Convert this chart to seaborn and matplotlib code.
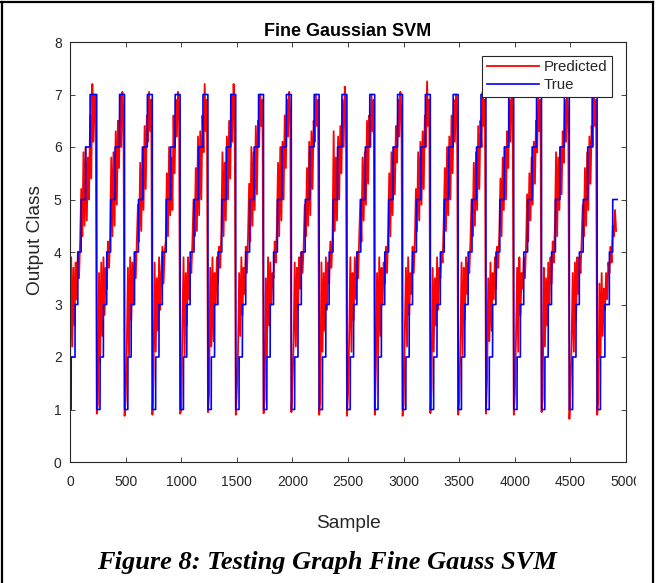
import numpy as np
import pandas as pd
import matplotlib
matplotlib.use("Agg")
import matplotlib.pyplot as plt
import seaborn as sns
from matplotlib.lines import Line2D
from matplotlib.transforms import Bbox, TransformedBbox

# True class: staircase 1..7 repeated (step lengths in samples)
first_levels = [1, 2, 3, 4, 5, 6, 7]
first_lengths = [10, 35, 25, 30, 40, 40, 60]
cycle_levels = [1, 2, 3, 4, 5, 6, 7]
cycle_lengths = [30, 30, 30, 35, 40, 40, 45]
n_cycles = 18
last_levels = [1, 2, 3, 4, 5]
last_lengths = [30, 40, 40, 30, 40]

# Predicted class, one value every 10 samples, one row per staircase
pred_step = 10
pred_rows = [
    [1.9, 3.9, 2.2, 3.7, 2.6, 3.8, 3.1, 4.0, 3.5, 4.2, 5.2, 4.3, 5.9, 4.5, 6.0, 4.6, 5.8, 5.0, 6.6, 5.4, 7.2, 6.1, 7.0, 6.8],
    [0.92, 1.1, 3.6, 1.9, 3.8, 2.4, 3.9, 2.8, 3.7, 3.3, 4.2, 3.7, 4.3, 5.8, 4.3, 5.9, 4.5, 6.3, 4.9, 6.5, 5.6, 7.0, 6.0, 7.05, 6.6],
    [0.88, 1.2, 2.2, 3.7, 2.0, 3.9, 2.7, 3.8, 3.0, 4.0, 3.5, 4.2, 4.9, 4.2, 5.7, 4.4, 6.0, 4.8, 6.4, 5.2, 6.6, 6.1, 7.05, 6.3, 6.9],
    [0.9, 1.6, 3.8, 2.1, 3.5, 2.5, 3.9, 2.9, 3.6, 4.1, 3.4, 4.0, 4.2, 5.5, 4.3, 6.0, 4.7, 5.8, 4.8, 6.6, 5.5, 6.9, 6.2, 7.05, 6.7],
    [0.92, 1.0, 2.6, 3.9, 2.0, 3.6, 2.6, 3.9, 3.1, 3.8, 3.6, 4.2, 5.0, 4.3, 5.6, 4.4, 6.2, 4.7, 6.3, 5.0, 6.6, 5.9, 7.2, 6.3, 6.9],
    [0.95, 1.3, 3.7, 2.2, 3.9, 2.3, 3.6, 3.0, 3.9, 3.4, 4.1, 3.7, 4.4, 5.9, 4.3, 5.7, 4.6, 6.2, 5.0, 6.5, 5.4, 7.0, 6.1, 7.2, 6.7],
    [0.9, 1.4, 2.1, 3.6, 2.4, 3.9, 2.8, 3.7, 3.2, 4.1, 3.6, 4.3, 5.3, 4.2, 6.0, 4.5, 5.9, 4.8, 6.4, 5.1, 6.5, 6.0, 7.0, 6.4, 6.9],
    [0.93, 1.2, 3.5, 2.0, 3.9, 2.6, 3.8, 3.0, 3.6, 3.5, 4.2, 3.8, 4.5, 5.7, 4.3, 6.0, 4.6, 6.1, 5.0, 6.6, 5.6, 6.9, 6.2, 7.05, 6.6],
    [0.95, 1.5, 2.3, 3.8, 2.2, 3.7, 2.9, 3.9, 3.3, 4.0, 3.6, 4.1, 4.9, 4.3, 5.6, 4.5, 6.1, 4.7, 6.3, 5.2, 6.5, 6.1, 7.0, 6.4, 6.9],
    [0.9, 1.2, 3.8, 2.1, 3.6, 2.5, 3.9, 2.9, 3.8, 3.4, 4.2, 3.7, 4.3, 6.3, 4.4, 5.8, 4.6, 6.2, 5.0, 6.4, 5.5, 6.9, 6.0, 7.15, 6.6],
    [0.88, 1.3, 2.4, 3.9, 2.1, 3.6, 2.7, 3.9, 3.1, 4.0, 3.5, 4.3, 5.0, 4.2, 5.8, 4.6, 5.9, 4.9, 6.5, 5.3, 6.6, 6.0, 7.0, 6.3, 6.9],
    [0.9, 1.8, 3.6, 2.0, 3.9, 2.4, 3.7, 3.0, 3.8, 3.4, 4.1, 3.6, 4.4, 5.5, 4.3, 5.9, 4.7, 6.0, 5.1, 6.4, 5.7, 6.9, 6.2, 7.05, 6.6],
    [0.88, 1.1, 2.5, 3.7, 2.2, 3.9, 2.8, 3.6, 3.2, 4.1, 3.6, 4.2, 5.2, 4.4, 5.9, 4.6, 6.1, 4.9, 6.3, 5.2, 6.6, 6.0, 7.25, 6.4, 6.9],
    [0.93, 1.4, 3.7, 2.1, 3.5, 2.6, 3.9, 2.9, 3.7, 3.5, 4.0, 3.8, 4.6, 5.6, 4.4, 6.0, 4.7, 6.2, 5.0, 6.6, 5.5, 6.9, 6.1, 7.0, 6.6],
    [0.9, 1.2, 2.3, 3.8, 2.0, 3.7, 2.7, 3.9, 3.2, 3.8, 3.6, 4.2, 5.0, 4.3, 5.7, 4.5, 5.9, 4.8, 6.4, 5.2, 6.5, 6.0, 7.05, 6.4, 6.9],
    [0.92, 1.6, 3.5, 2.3, 3.8, 2.5, 3.6, 3.1, 3.9, 3.3, 4.1, 3.7, 4.4, 5.4, 4.3, 5.8, 4.8, 6.0, 5.0, 6.3, 5.6, 6.9, 6.1, 7.1, 6.6],
    [0.9, 1.3, 2.4, 3.7, 2.1, 3.9, 2.8, 3.6, 3.3, 3.9, 3.5, 4.1, 5.1, 4.2, 5.5, 4.6, 5.8, 4.9, 6.1, 5.3, 6.5, 5.9, 7.0, 6.3, 6.9],
    [0.95, 1.2, 3.7, 2.2, 3.5, 2.6, 3.8, 3.0, 3.9, 3.4, 4.2, 3.8, 4.5, 5.9, 4.3, 5.8, 4.8, 6.0, 5.1, 6.3, 5.7, 6.9, 6.1, 7.05, 6.6],
    [0.82, 1.4, 2.3, 3.6, 2.1, 3.8, 2.7, 3.9, 3.2, 3.9, 3.6, 4.2, 4.9, 4.3, 5.6, 4.5, 5.9, 4.8, 6.2, 5.3, 6.4, 6.0, 7.0, 6.4, 6.9],
    [0.9, 1.2, 3.4, 2.0, 3.6, 2.4, 3.3, 2.9, 3.6, 3.1, 3.8, 3.6, 4.1, 3.8, 4.5, 4.3, 4.8, 4.4],
]

x_ticks = list(range(0, 5001, 500))
y_ticks = list(range(0, 9))

true_vals = np.concatenate(
    [np.repeat(first_levels, first_lengths)]
    + [np.repeat(cycle_levels, cycle_lengths)] * n_cycles
    + [np.repeat(last_levels, last_lengths)]
)
true_df = pd.DataFrame({"Sample": np.arange(1, len(true_vals) + 1), "Class": true_vals})
pred_vals = np.concatenate([np.array(r) for r in pred_rows])
pred_df = pd.DataFrame({"Sample": np.arange(len(pred_vals)) * pred_step + 1, "Class": pred_vals})

plt.rcParams["font.family"] = ["Liberation Sans", "DejaVu Sans"]
gray = "#262626"

fig = plt.figure(figsize=(6.58, 5.83), dpi=100)
ax = fig.add_axes([70 / 658, 1 - 462 / 583, 556 / 658, 420 / 583])

sns.lineplot(data=pred_df, x="Sample", y="Class", ax=ax, color="#ff0000", lw=1.3,
             estimator=None, sort=False, label="Predicted")
sns.lineplot(data=true_df, x="Sample", y="Class", ax=ax, color="#0000ff", lw=1.2,
             estimator=None, sort=False, label="True")

ax.set_xlim(0, 5000)
ax.set_ylim(0, 8)
ax.set_xticks(x_ticks)
ax.set_yticks(y_ticks)
ax.tick_params(direction="in", length=3.6, width=0.6, color=gray, labelcolor=gray,
               labelsize=10, top=True, right=True)
ax.tick_params(axis="x", pad=9)
ax.tick_params(axis="y", pad=6)
for s in ax.spines.values():
    s.set_color(gray)
    s.set_linewidth(0.8)

ax.set_title("Fine Gaussian SVM", fontsize=13, fontweight="bold", color="black", pad=4)
ax.set_xlabel("Sample", fontsize=13.8, color=gray)
ax.set_ylabel("Output Class", fontsize=13.8, color=gray)
ax.xaxis.set_label_coords(0.5, -0.127)
ax.yaxis.set_label_coords(-0.047, 0.529)

leg = ax.legend(loc="upper right", fontsize=10.8, frameon=True, fancybox=False,
                framealpha=1, edgecolor=gray, handlelength=3.5, handletextpad=0.3,
                borderaxespad=0.93, labelspacing=0.25, borderpad=0.3)
leg.get_frame().set_linewidth(0.8)
for t in leg.get_texts():
    t.set_color(gray)

fig.text(0.497, 1 - 569 / 583, "Figure 8: Testing Graph Fine Gauss SVM",
         family="Liberation Serif", fontweight="bold", fontstyle="italic",
         fontsize=19, ha="center", va="baseline", color="black")

# page frame around the figure
for xs, ys in [([1.5 / 658, 1.5 / 658], [0, 1 - 2 / 583]),
               ([0, 653 / 658], [1 - 2 / 583, 1 - 2 / 583]),
               ([653 / 658, 653 / 658], [0, 1 - 2 / 583])]:
    fig.add_artist(Line2D(xs, ys, transform=fig.transFigure, color="black", lw=1.6))

# the last tick label is cut off in the original
fig.canvas.draw()
last_lab = ax.xaxis.get_major_ticks()[-1].label1
last_lab.set_clip_box(TransformedBbox(Bbox([[0, 0], [636 / 658, 1]]), fig.transFigure))
last_lab.set_clip_on(True)

fig.savefig("out.png", dpi=100)
